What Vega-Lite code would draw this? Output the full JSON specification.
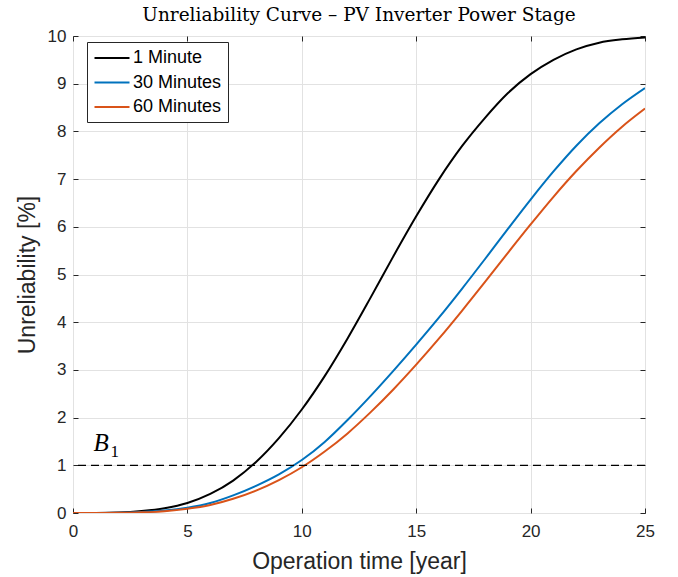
{
  "$schema": "https://vega.github.io/schema/vega-lite/v6.json",
  "width": 572,
  "height": 477,
  "autosize": {"type": "none"},
  "padding": {"left": 73, "top": 36, "right": 33, "bottom": 64},
  "background": "white",
  "title": {
    "text": "Unreliability Curve – PV Inverter Power Stage",
    "font": "DejaVu Serif",
    "fontSize": 18.5,
    "fontWeight": "normal",
    "color": "#000000",
    "anchor": "middle",
    "offset": 3
  },
  "config": {
    "view": {"stroke": "#262626", "strokeWidth": 1},
    "axis": {
      "labelFont": "Liberation Sans",
      "labelFontSize": 17,
      "labelColor": "#262626",
      "labelFlush": false,
      "titleFont": "Liberation Sans",
      "titleFontSize": 23,
      "titleFontWeight": "normal",
      "titleColor": "#262626",
      "gridColor": "#e2e2e2",
      "gridWidth": 1,
      "domain": false,
      "tickColor": "#262626",
      "tickSize": -5,
      "tickWidth": 1
    }
  },
  "datasets": {
    "curves": [
      {"t": 0, "u": 0, "series": "1 Minute"},
      {"t": 1, "u": 0.002, "series": "1 Minute"},
      {"t": 2, "u": 0.01, "series": "1 Minute"},
      {"t": 3, "u": 0.04, "series": "1 Minute"},
      {"t": 4, "u": 0.1, "series": "1 Minute"},
      {"t": 5, "u": 0.21, "series": "1 Minute"},
      {"t": 6, "u": 0.4, "series": "1 Minute"},
      {"t": 7, "u": 0.68, "series": "1 Minute"},
      {"t": 8, "u": 1.07, "series": "1 Minute"},
      {"t": 9, "u": 1.57, "series": "1 Minute"},
      {"t": 10, "u": 2.17, "series": "1 Minute"},
      {"t": 11, "u": 2.87, "series": "1 Minute"},
      {"t": 12, "u": 3.66, "series": "1 Minute"},
      {"t": 13, "u": 4.51, "series": "1 Minute"},
      {"t": 14, "u": 5.38, "series": "1 Minute"},
      {"t": 15, "u": 6.22, "series": "1 Minute"},
      {"t": 16, "u": 7.0, "series": "1 Minute"},
      {"t": 17, "u": 7.69, "series": "1 Minute"},
      {"t": 18, "u": 8.28, "series": "1 Minute"},
      {"t": 19, "u": 8.8, "series": "1 Minute"},
      {"t": 20, "u": 9.2, "series": "1 Minute"},
      {"t": 21, "u": 9.5, "series": "1 Minute"},
      {"t": 22, "u": 9.72, "series": "1 Minute"},
      {"t": 23, "u": 9.86, "series": "1 Minute"},
      {"t": 24, "u": 9.93, "series": "1 Minute"},
      {"t": 25, "u": 9.97, "series": "1 Minute"},
      {"t": 0, "u": 0, "series": "30 Minutes"},
      {"t": 1, "u": 0.001, "series": "30 Minutes"},
      {"t": 2, "u": 0.005, "series": "30 Minutes"},
      {"t": 3, "u": 0.02, "series": "30 Minutes"},
      {"t": 4, "u": 0.05, "series": "30 Minutes"},
      {"t": 5, "u": 0.11, "series": "30 Minutes"},
      {"t": 6, "u": 0.21, "series": "30 Minutes"},
      {"t": 7, "u": 0.37, "series": "30 Minutes"},
      {"t": 8, "u": 0.57, "series": "30 Minutes"},
      {"t": 9, "u": 0.81, "series": "30 Minutes"},
      {"t": 10, "u": 1.11, "series": "30 Minutes"},
      {"t": 11, "u": 1.49, "series": "30 Minutes"},
      {"t": 12, "u": 1.95, "series": "30 Minutes"},
      {"t": 13, "u": 2.45, "series": "30 Minutes"},
      {"t": 14, "u": 2.98, "series": "30 Minutes"},
      {"t": 15, "u": 3.53, "series": "30 Minutes"},
      {"t": 16, "u": 4.1, "series": "30 Minutes"},
      {"t": 17, "u": 4.7, "series": "30 Minutes"},
      {"t": 18, "u": 5.32, "series": "30 Minutes"},
      {"t": 19, "u": 5.95, "series": "30 Minutes"},
      {"t": 20, "u": 6.57, "series": "30 Minutes"},
      {"t": 21, "u": 7.16, "series": "30 Minutes"},
      {"t": 22, "u": 7.7, "series": "30 Minutes"},
      {"t": 23, "u": 8.17, "series": "30 Minutes"},
      {"t": 24, "u": 8.57, "series": "30 Minutes"},
      {"t": 25, "u": 8.91, "series": "30 Minutes"},
      {"t": 0, "u": 0, "series": "60 Minutes"},
      {"t": 1, "u": 0.001, "series": "60 Minutes"},
      {"t": 2, "u": 0.004, "series": "60 Minutes"},
      {"t": 3, "u": 0.014, "series": "60 Minutes"},
      {"t": 4, "u": 0.039, "series": "60 Minutes"},
      {"t": 5, "u": 0.089, "series": "60 Minutes"},
      {"t": 6, "u": 0.169, "series": "60 Minutes"},
      {"t": 7, "u": 0.299, "series": "60 Minutes"},
      {"t": 8, "u": 0.469, "series": "60 Minutes"},
      {"t": 9, "u": 0.689, "series": "60 Minutes"},
      {"t": 10, "u": 0.959, "series": "60 Minutes"},
      {"t": 11, "u": 1.289, "series": "60 Minutes"},
      {"t": 12, "u": 1.669, "series": "60 Minutes"},
      {"t": 13, "u": 2.109, "series": "60 Minutes"},
      {"t": 14, "u": 2.589, "series": "60 Minutes"},
      {"t": 15, "u": 3.109, "series": "60 Minutes"},
      {"t": 16, "u": 3.659, "series": "60 Minutes"},
      {"t": 17, "u": 4.239, "series": "60 Minutes"},
      {"t": 18, "u": 4.839, "series": "60 Minutes"},
      {"t": 19, "u": 5.449, "series": "60 Minutes"},
      {"t": 20, "u": 6.049, "series": "60 Minutes"},
      {"t": 21, "u": 6.629, "series": "60 Minutes"},
      {"t": 22, "u": 7.169, "series": "60 Minutes"},
      {"t": 23, "u": 7.659, "series": "60 Minutes"},
      {"t": 24, "u": 8.099, "series": "60 Minutes"},
      {"t": 25, "u": 8.479, "series": "60 Minutes"}
    ]
  },
  "layer": [
    {
      "data": {"name": "curves"},
      "mark": {"type": "line", "interpolate": "monotone", "strokeWidth": 2, "clip": true},
      "encoding": {
        "x": {
          "field": "t",
          "type": "quantitative",
          "scale": {"domain": [0, 25], "nice": false},
          "axis": {
            "orient": "bottom",
            "values": [0, 5, 10, 15, 20, 25],
            "title": "Operation time [year]",
            "grid": true,
            "labelPadding": 15,
            "titlePadding": 11
          }
        },
        "y": {
          "field": "u",
          "type": "quantitative",
          "scale": {"domain": [0, 10], "nice": false},
          "axis": {
            "orient": "left",
            "values": [0, 1, 2, 3, 4, 5, 6, 7, 8, 9, 10],
            "title": "Unreliability [%]",
            "grid": true,
            "labelPadding": 12,
            "titlePadding": 8
          }
        },
        "color": {
          "field": "series",
          "type": "nominal",
          "scale": {
            "domain": ["1 Minute", "30 Minutes", "60 Minutes"],
            "range": ["#000000", "#0072BD", "#D95319"]
          },
          "legend": {
            "title": null,
            "orient": "none",
            "legendX": 14,
            "legendY": 6,
            "fillColor": "white",
            "strokeColor": "#262626",
            "padding": 6,
            "symbolType": "M-2,0H2",
            "symbolSize": 306,
            "symbolStrokeWidth": 2,
            "symbolOffset": 9,
            "labelFont": "Liberation Sans",
            "labelFontSize": 18,
            "labelColor": "#000000",
            "labelOffset": 11,
            "rowPadding": 5.5
          }
        }
      }
    },
    {
      "data": {"values": [{}]},
      "mark": {"type": "rule", "color": "#000000", "strokeWidth": 1.2, "strokeDash": [8, 5]},
      "encoding": {
        "y": {"datum": 1, "type": "quantitative", "axis": null}
      }
    },
    {
      "data": {"values": [{}]},
      "mark": {"type": "text", "text": "B", "font": "Liberation Serif", "fontStyle": "italic", "fontSize": 25, "align": "left", "baseline": "alphabetic", "color": "#000000"},
      "encoding": {
        "x": {"datum": 0.9, "type": "quantitative", "axis": {"orient": "top", "labels": false, "title": null, "grid": false, "values": [0, 5, 10, 15, 20, 25]}},
        "y": {"datum": 1.3, "type": "quantitative", "axis": {"orient": "right", "labels": false, "title": null, "grid": false, "values": [0, 1, 2, 3, 4, 5, 6, 7, 8, 9, 10]}}
      }
    },
    {
      "data": {"values": [{}]},
      "mark": {"type": "text", "text": "1", "font": "Liberation Serif", "fontSize": 17, "align": "left", "baseline": "alphabetic", "color": "#000000"},
      "encoding": {
        "x": {"datum": 1.64, "type": "quantitative", "axis": null},
        "y": {"datum": 1.17, "type": "quantitative", "axis": null}
      }
    }
  ],
  "resolve": {"axis": {"x": "independent", "y": "independent"}}
}
